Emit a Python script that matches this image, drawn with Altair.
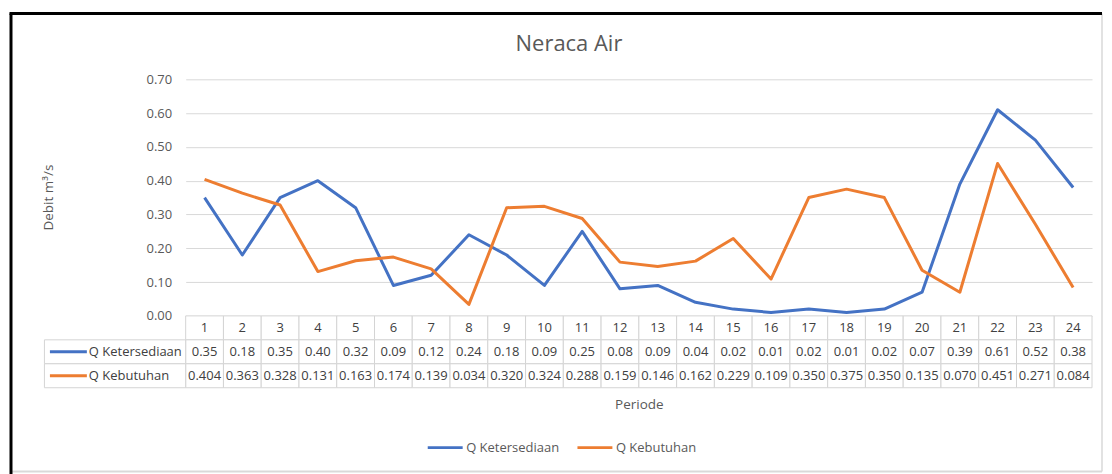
import altair as alt
import pandas as pd

# ---- data ----
periods = list(range(1, 25))
q_ketersediaan = [0.35, 0.18, 0.35, 0.40, 0.32, 0.09, 0.12, 0.24, 0.18, 0.09, 0.25, 0.08,
                  0.09, 0.04, 0.02, 0.01, 0.02, 0.01, 0.02, 0.07, 0.39, 0.61, 0.52, 0.38]
q_kebutuhan = [0.404, 0.363, 0.328, 0.131, 0.163, 0.174, 0.139, 0.034, 0.320, 0.324, 0.288, 0.159,
               0.146, 0.162, 0.229, 0.109, 0.350, 0.375, 0.350, 0.135, 0.070, 0.451, 0.271, 0.084]
series_names = ["Q Ketersediaan", "Q Kebutuhan"]
series_colors = ["#4472C4", "#ED7D31"]
y_ticks = [0.0, 0.1, 0.2, 0.3, 0.4, 0.5, 0.6, 0.7]
chart_title = "Neraca Air"
y_title = "Debit m³/s"
x_title = "Periode"

FONT = "Open Sans"
TXT = "#595959"
GRID = "#d9d9d9"
W, H = 908, 237

line_df = pd.DataFrame({
    "period": periods * 2,
    "series": [s for s in series_names for _ in periods],
    "value": q_ketersediaan + q_kebutuhan,
})

table_rows = ["periode"] + series_names
table_df = pd.DataFrame({
    "period": periods * 3,
    "row": [r for r in table_rows for _ in periods],
    "label": [str(p) for p in periods]
    + [f"{v:.2f}" for v in q_ketersediaan]
    + [f"{v:.3f}" for v in q_kebutuhan],
})
legend_df = pd.DataFrame({"row": series_names, "series": series_names})
one = pd.DataFrame({"t": [chart_title]})

xscale = alt.Scale(type="band", paddingInner=0, paddingOuter=0)
xaxis = alt.Axis(labels=False, ticks=False, domain=False, grid=False,
                 title=x_title, titlePadding=82, titleFont=FONT,
                 titleFontSize=13.5, titleFontWeight="normal", titleColor=TXT)
color = alt.Color(
    "series:N",
    scale=alt.Scale(domain=series_names, range=series_colors),
    legend=alt.Legend(
        orient="none", legendX=241, legendY=350, direction="horizontal",
        title=None, symbolType="stroke", symbolSize=1225, symbolStrokeWidth=3,
        labelFont=FONT, labelFontSize=13, labelColor=TXT, labelOffset=2,
        columnPadding=11,
    ),
)

lines = alt.Chart(line_df).mark_line(strokeWidth=3, strokeJoin="round").encode(
    x=alt.X("period:O", bandPosition=0.5, scale=xscale, axis=xaxis),
    y=alt.Y("value:Q", scale=alt.Scale(domain=[0, 0.7]),
            axis=alt.Axis(values=y_ticks, format=".2f", ticks=False, domain=False,
                          grid=True, gridColor=GRID, gridWidth=1,
                          labelFont=FONT, labelFontSize=13, labelColor=TXT, labelPadding=14,
                          title=y_title, titleFont=FONT, titleFontSize=13.5,
                          titleFontWeight="normal", titleColor=TXT,
                          titleX=-137, titleY=118, titleAngle=-90, titleBaseline="middle")),
    color=color,
)

rowscale = alt.Scale(domain=table_rows, range=[H, H + 72], paddingInner=0, paddingOuter=0)
xt = alt.X("period:O", scale=xscale, axis=xaxis)
xt_c = alt.X("period:O", bandPosition=0.5, scale=xscale, axis=xaxis)
yt = alt.Y("row:N", scale=rowscale, axis=None)
yt_c = alt.Y("row:N", bandPosition=0.5, scale=rowscale, axis=None)

cells = alt.Chart(table_df).mark_rect(fill="white", stroke="#d4d4d4", strokeWidth=1).encode(x=xt, y=yt)
cell_text = alt.Chart(table_df).mark_text(font=FONT, fontSize=13, color="#404040", baseline="middle").encode(
    x=xt_c, y=yt_c, text="label:N")
leg_cells = alt.Chart(legend_df).mark_rect(fill="white", stroke="#d4d4d4", strokeWidth=1).encode(
    x=alt.value(-141.5), x2=alt.value(0), y=yt)
leg_rules = alt.Chart(legend_df).mark_rule(strokeWidth=3).encode(
    x=alt.value(-136), x2=alt.value(-99), y=yt_c, color=color)
leg_text = alt.Chart(legend_df).mark_text(font=FONT, fontSize=13, color="#404040", align="left",
                                          baseline="middle").encode(
    x=alt.value(-97), y=yt_c, text="series:N")

table = alt.layer(cells, cell_text, leg_cells, leg_rules, leg_text)

frame_base = alt.Chart(one)
frame = alt.layer(
    frame_base.mark_rule(color="#d9d9d9", strokeWidth=1.5).encode(
        x=alt.value(918), y=alt.value(-66), y2=alt.value(393)),
    frame_base.mark_rule(color="#d9d9d9", strokeWidth=2).encode(
        x=alt.value(-175), x2=alt.value(918), y=alt.value(393)),
    frame_base.mark_rule(color="black", strokeWidth=3).encode(
        x=alt.value(-176.5), x2=alt.value(918), y=alt.value(-66)),
    frame_base.mark_rule(color="black", strokeWidth=3).encode(
        x=alt.value(-175), y=alt.value(-66), y2=alt.value(396)),
    frame_base.mark_text(font=FONT, fontSize=22, color=TXT, baseline="middle").encode(
        x=alt.value(384), y=alt.value(-35), text="t:N"),
)

chart = alt.layer(frame, lines, table).resolve_scale(y="independent").properties(
    width=W, height=H,
    padding={"left": 0, "top": 3, "right": 0, "bottom": 0},
    background="white",
).configure_view(stroke=None)

chart.save("out.html", embed_options={"renderer": "svg", "actions": False})
